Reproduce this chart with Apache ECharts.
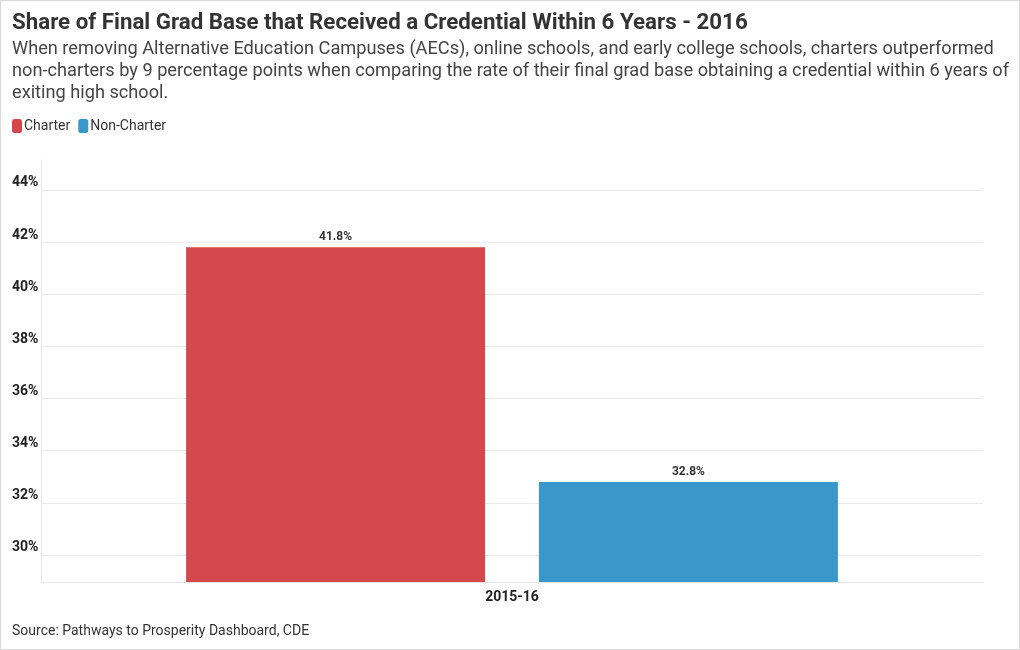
<!DOCTYPE html>
<html>
<head>
<meta charset="utf-8">
<script src="https://cdn.jsdelivr.net/npm/echarts@6/dist/echarts.min.js"></script>
<style>
html,body{margin:0;padding:0;background:#fff;}
#wrap{width:1020px;height:650px;box-sizing:border-box;border:1px solid #d9d9d9;position:relative;}
#chart{width:1018px;height:648px;position:absolute;left:0;top:0;}
</style>
</head>
<body>
<div id="wrap"><div id="chart"></div></div>
<script>
var categories = ['2015-16'];
var seriesNames = ['Charter', 'Non-Charter'];
var charterValues = [41.8];
var nonCharterValues = [32.8];
var yTickValues = [30, 32, 34, 36, 38, 40, 42, 44];

var chart = echarts.init(document.getElementById('chart'));
var FONT = 'Roboto';
var gridLineData = yTickValues.map(function (v) { return { yAxis: v }; });

var option = {
  animation: false,
  textStyle: { fontFamily: FONT },
  title: [
    {
      text: 'Share of Final Grad Base that Received a Credential Within 6 Years - 2016',
      left: 11, top: 11, padding: 0,
      textStyle: { fontFamily: FONT, fontSize: 22.3, fontWeight: 'bold', color: '#333' }
    },
    {
      text: 'When removing Alternative Education Campuses (AECs), online schools, and early college schools, charters outperformed\nnon-charters by 9 percentage points when comparing the rate of their final grad base obtaining a credential within 6 years of\nexiting high school.',
      left: 11, top: 37, padding: 0,
      textStyle: { fontFamily: FONT, fontSize: 18.2, fontWeight: 'normal', color: '#444', lineHeight: 22 }
    },
    {
      text: 'Source: Pathways to Prosperity Dashboard, CDE',
      left: 11, top: 623, padding: 0,
      textStyle: { fontFamily: FONT, fontSize: 14, fontWeight: 'normal', color: '#333' }
    }
  ],
  legend: {
    data: seriesNames,
    left: 11, top: 118, padding: 0,
    icon: 'roundRect',
    itemWidth: 10, itemHeight: 14, itemGap: 8,
    textStyle: { fontFamily: FONT, fontSize: 14, color: '#333', padding: [0, 0, 0, -3] }
  },
  grid: { left: 40, right: 36, top: 159, bottom: 67, containLabel: false },
  xAxis: {
    type: 'category',
    data: categories,
    axisLine: { show: true, lineStyle: { color: '#e6e6e6' } },
    axisTick: { show: false },
    axisLabel: { fontFamily: FONT, fontSize: 14, fontWeight: 'bold', color: '#222', margin: 8 }
  },
  yAxis: {
    type: 'value',
    min: 28.96, max: 45.15,
    axisLine: { show: true, lineStyle: { color: '#e6e6e6' } },
    axisTick: { show: false },
    splitLine: { show: false },
    axisLabel: {
      customValues: yTickValues,
      formatter: function (v) { return v + '%'; },
      fontFamily: FONT, fontSize: 14, fontWeight: 'bold', color: '#222',
      align: 'left', margin: 29, verticalAlign: 'bottom', padding: 0
    }
  },
  series: [
    {
      name: seriesNames[0], type: 'bar', data: charterValues,
      barWidth: 299, barGap: '18%',
      itemStyle: { color: '#d4474d' },
      label: { show: true, position: 'top', distance: 4, formatter: function (p) { return p.value.toFixed(1) + '%'; },
        fontFamily: FONT, fontSize: 12, fontWeight: 'bold', color: '#333' },
      markLine: {
        silent: true, symbol: 'none', label: { show: false },
        lineStyle: { color: '#ebebeb', width: 1, type: 'solid' },
        data: gridLineData, z: 0
      },
      z: 2
    },
    {
      name: seriesNames[1], type: 'bar', data: nonCharterValues,
      barWidth: 299, barGap: '18%',
      itemStyle: { color: '#3a97c9' },
      label: { show: true, position: 'top', distance: 4, formatter: function (p) { return p.value.toFixed(1) + '%'; },
        fontFamily: FONT, fontSize: 12, fontWeight: 'bold', color: '#333' },
      z: 2
    }
  ]
};
chart.setOption(option);
</script>
</body>
</html>
